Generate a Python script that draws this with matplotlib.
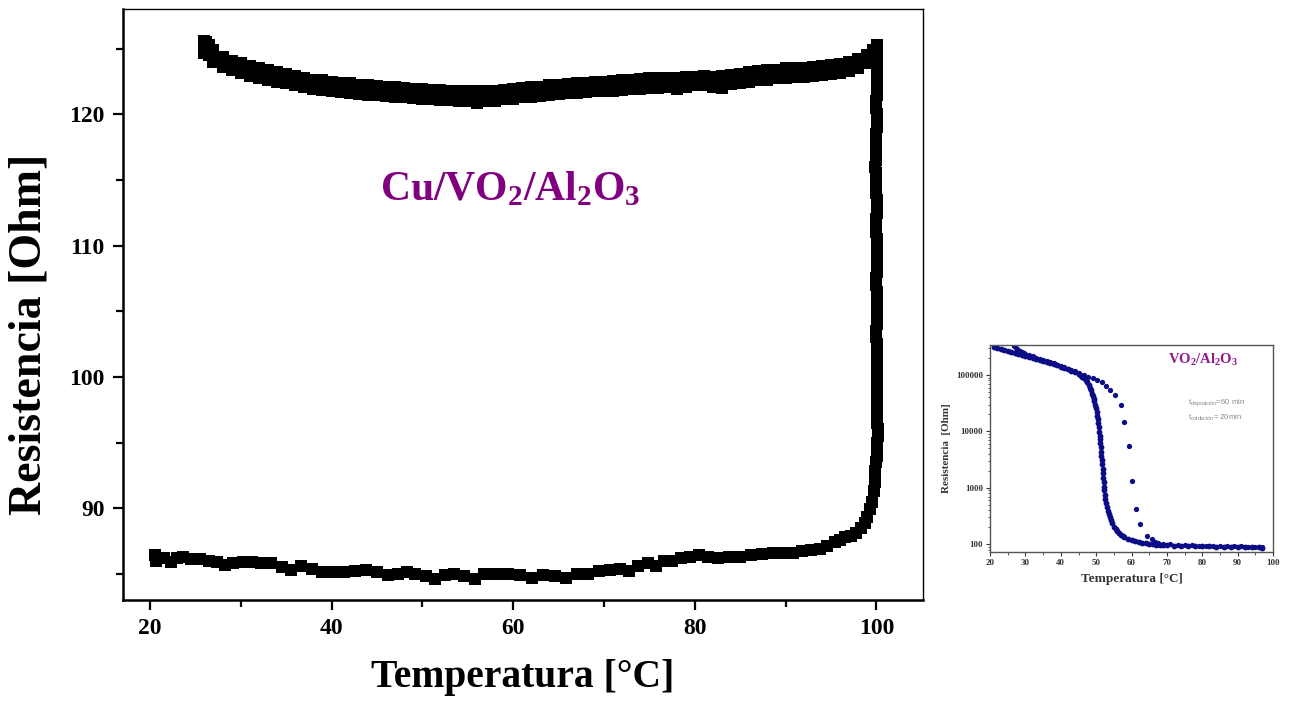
import matplotlib
matplotlib.use("Agg")
import matplotlib.pyplot as plt
from matplotlib.ticker import MultipleLocator, LogLocator, NullFormatter, FixedFormatter, FixedLocator

plt.rcParams["font.family"] = ["Liberation Serif", "DejaVu Serif"]
plt.rcParams["font.weight"] = "bold"
plt.rcParams["mathtext.fontset"] = "custom"
plt.rcParams["mathtext.rm"] = "Liberation Serif:bold"
plt.rcParams["mathtext.bf"] = "Liberation Serif:bold"

# --- main sample: Cu/VO2/Al2O3, heating branch (lower) ---
t_heat = [20.6, 20.7, 21.5, 22.3, 23.0, 23.6, 24.5, 25.5, 26.5, 27.4, 28.3, 29.2,
          30.2, 31.2, 32.2, 33.3, 34.5, 35.5, 36.6, 37.8, 39.0, 40.2, 41.4, 42.6,
          43.8, 45.0, 46.2, 47.3, 48.3, 49.2, 50.4, 51.4, 52.5, 53.5, 54.6, 55.8,
          56.8, 58.1, 59.4, 60.8, 62.1, 63.3, 64.6, 65.8, 67.0, 68.3, 69.5, 70.7,
          71.8, 72.8, 73.8, 74.8, 75.7, 76.6, 77.5, 78.5, 79.5, 80.5, 81.5, 82.6,
          83.8, 85.0, 86.2, 87.4, 88.6, 89.8, 90.8, 91.8, 92.8, 93.8, 94.6, 95.4,
          96.0, 96.6, 97.2, 97.8, 98.3, 98.7, 99.0, 99.3, 99.5, 99.7, 99.8, 99.9]
r_heat = [86.4, 86.0, 86.2, 85.9, 86.2, 86.3, 86.1, 86.1, 86.0, 85.9, 85.7, 85.8,
          85.9, 85.9, 85.8, 85.8, 85.5, 85.3, 85.6, 85.4, 85.1, 85.1, 85.1, 85.2,
          85.3, 85.1, 84.9, 85.0, 85.1, 85.0, 84.8, 84.6, 84.9, 85.0, 84.8, 84.6,
          85.0, 85.0, 85.0, 84.9, 84.7, 84.9, 84.8, 84.7, 85.0, 85.0, 85.2, 85.3,
          85.4, 85.2, 85.6, 85.8, 85.6, 86.0, 86.0, 86.2, 86.3, 86.4, 86.3, 86.2,
          86.3, 86.3, 86.4, 86.5, 86.6, 86.6, 86.6, 86.7, 86.8, 86.9, 87.1, 87.4,
          87.6, 87.8, 87.9, 88.1, 88.5, 88.9, 89.3, 89.9, 90.5, 91.3, 92.0, 92.8]

# --- jump at ~100 C ---
t_jump = [100.0, 100.05, 100.1, 100.1, 100.15, 100.15, 100.1, 100.1, 100.05, 100.1,
          100.1, 100.1, 100.05, 100.05, 100.1, 100.1, 100.1, 100.05, 100.05, 100.0,
          100.0, 100.05, 100.05, 100.1, 100.1, 100.05, 100.05, 100.0, 100.0, 100.05,
          100.05, 100.1, 100.1, 100.05, 100.05, 100.0, 100.0, 100.0, 100.05, 100.05,
          100.05, 100.0, 100.0, 99.95, 99.95, 99.9, 99.95, 99.95, 100.0, 100.0,
          100.0, 100.05, 100.05, 100.05, 100.0, 100.0, 100.05, 100.05, 100.05, 100.05,
          100.1, 100.05, 100.05, 100.1, 100.1]
r_jump = [93.5, 94.0, 94.5, 95.0, 95.5, 96.0, 96.5, 97.0, 97.5, 98.0,
          98.5, 99.0, 99.5, 100.0, 100.5, 101.0, 101.5, 102.0, 102.5, 103.0,
          103.5, 104.0, 104.5, 105.0, 105.5, 106.0, 106.5, 107.0, 107.5, 108.0,
          108.5, 109.0, 109.5, 110.0, 110.5, 111.0, 111.5, 112.0, 112.5, 113.0,
          113.5, 114.0, 114.5, 115.0, 115.5, 116.0, 116.5, 117.0, 117.5, 118.0,
          118.5, 119.0, 119.5, 120.0, 120.5, 121.0, 121.5, 122.0, 122.5, 123.0,
          123.5, 124.0, 124.5, 125.0, 125.3]

# --- cooling branch (upper), two scattered rows of points ---
t_cool = [99.6, 99, 98, 97, 96, 95, 94, 93, 92, 91, 90, 89, 88, 87, 86, 85, 84, 83,
          82, 81, 80, 79, 78, 77, 76, 75, 74, 73, 72, 71, 70, 69, 68, 67, 66, 65,
          64, 63, 62, 61, 60, 59, 58, 57, 56, 55, 54, 53, 52, 51, 50, 49, 48, 47,
          46, 45, 44, 43, 42, 41, 40, 39, 38, 37, 36, 35, 34, 33, 32, 31, 30, 29,
          28, 27, 26.5, 26.2, 26.0, 26.0]
r_cool_a = [124.9, 124.5, 124.2, 124.0, 123.8, 123.75, 123.7, 123.6, 123.55, 123.5,
            123.5, 123.4, 123.35, 123.3, 123.2, 123.1, 123.0, 122.9, 122.85, 122.9,
            122.85, 122.85, 122.8, 122.8, 122.75, 122.75, 122.7, 122.6, 122.6, 122.55,
            122.5, 122.45, 122.4, 122.35, 122.3, 122.25, 122.2, 122.1, 122.05, 122.0,
            121.9, 121.85, 121.8, 121.75, 121.75, 121.8, 121.8, 121.8, 121.85, 121.85,
            121.9, 121.95, 122.0, 122.05, 122.1, 122.15, 122.2, 122.25, 122.35, 122.4,
            122.5, 122.6, 122.65, 122.75, 122.9, 123.05, 123.2, 123.35, 123.5, 123.7,
            123.9, 124.1, 124.4, 124.9, 125.3, 125.5, 125.6, 125.2]
r_cool_b = [124.3, 123.9, 123.5, 123.3, 123.15, 123.05, 123.0, 122.95, 122.85, 122.85,
            122.8, 122.75, 122.65, 122.6, 122.5, 122.4, 122.3, 122.0, 122.1, 122.2,
            122.2, 122.1, 121.95, 122.05, 122.0, 122.0, 121.95, 121.9, 121.85, 121.8,
            121.8, 121.75, 121.7, 121.65, 121.6, 121.55, 121.45, 121.4, 121.35, 121.3,
            121.2, 121.15, 121.0, 121.05, 120.9, 121.0, 121.05, 121.1, 121.1, 121.15,
            121.2, 121.25, 121.3, 121.35, 121.4, 121.45, 121.5, 121.55, 121.6, 121.7,
            121.75, 121.85, 121.95, 122.05, 122.2, 122.35, 122.5, 122.65, 122.8, 122.95,
            123.15, 123.35, 123.6, 124.0, 124.5, 124.8, 125.0, 124.7]

# --- small inset: VO2/Al2O3 (log scale) ---
ti_heat = [21, 22, 23, 24, 25, 26, 27, 28, 29, 30, 31, 32, 33, 34, 35, 36, 37, 38,
           39, 40, 41, 42, 43, 44, 45, 45.5, 46, 46.5, 47, 47.5, 48.0, 48.3, 48.6,
           48.9, 49.1, 49.3, 49.5, 49.7, 49.9, 50.1, 50.3, 50.45, 50.6, 50.75, 50.9,
           51.0, 51.1, 51.2, 51.3, 51.4, 51.5, 51.6, 51.7, 51.8, 51.9, 52.0, 52.1,
           52.2, 52.3, 52.45, 52.6, 52.8, 53.0, 53.25, 53.5, 53.8, 54.1, 54.5, 55.0,
           55.5, 56.0, 56.5, 57, 57.5, 58, 59, 60, 61, 62, 63, 64, 65, 66, 67, 68,
           69, 70, 72, 74, 76, 78, 80, 82, 84, 86, 88, 90, 92, 94, 96, 97]
ri_heat = [310000, 300000, 290000, 280000, 270000, 260000, 250000, 240000, 230000,
           220000, 210000, 200000, 190000, 185000, 175000, 170000, 160000, 155000,
           148000, 140000, 133000, 127000, 120000, 112000, 103000, 99000, 94000,
           89000, 83000, 75000, 66000, 60000, 54000, 47000, 42000, 38000, 34000,
           30000, 26500, 22500, 19000, 16500, 14000, 11800, 9800, 8300, 7200, 6200,
           5200, 4400, 3700, 3100, 2600, 2150, 1800, 1500, 1250, 1050, 900, 760,
           640, 540, 460, 390, 340, 300, 265, 235, 205, 185, 170, 158, 148, 140,
           134, 125, 119, 114, 110, 107, 104, 102, 100, 99, 98, 97, 96, 95, 94,
           93.5, 93, 92, 91.5, 91, 90.5, 90, 89.5, 89, 88.5, 88, 87.5]
ti_cool = [97, 95, 93, 91, 89, 87, 85, 83, 81, 79, 77, 75, 73, 71, 69, 67.5, 66.5,
           65.7, 64.3, 62.4, 61.3, 60.2, 59.3, 58.0, 57.0, 55.4, 54.0, 52.9, 51.7,
           50.3, 49.0, 47.8, 46.5, 45, 44, 43, 42, 41, 40, 39, 38, 37, 36, 35, 34,
           33, 32, 31, 30, 29.5, 29, 28.5, 28, 27.5, 27.2, 26.8]
ri_cool = [90, 90.5, 91, 91.5, 92, 92.5, 93, 93.5, 94, 95, 96, 97, 98, 100, 102,
           106, 112, 125, 141, 230, 420, 1350, 5500, 15000, 30000, 44000, 54000,
           65000, 75000, 82000, 88000, 94000, 101000, 108000, 116000, 123000, 130000,
           137000, 145000, 152000, 160000, 168000, 177000, 186000, 195000, 204000,
           214000, 224000, 236000, 243000, 252000, 262000, 272000, 285000, 300000,
           330000]

fig = plt.figure(figsize=(12.91, 7.07), dpi=100)

# --- main panel ---
ax = fig.add_axes([0.095, 0.1513, 0.6197, 0.8355])
ax.plot(t_heat, r_heat, "s", color="black", ms=8, mew=0)
ax.plot(t_jump, r_jump, "s", color="black", ms=8, mew=0)
ax.plot(t_cool, r_cool_a, "s", color="black", ms=8, mew=0)
ax.plot(t_cool, r_cool_b, "s", color="black", ms=8, mew=0)

ax.set_xlim(17.0, 105.1)
ax.set_ylim(83.0, 128.0)
ax.xaxis.set_major_locator(MultipleLocator(20))
ax.xaxis.set_minor_locator(MultipleLocator(10))
ax.yaxis.set_major_locator(MultipleLocator(10))
ax.yaxis.set_minor_locator(MultipleLocator(5))
ax.tick_params(which="major", direction="out", length=7, width=1.6, labelsize=17, pad=6)
ax.tick_params(which="minor", direction="out", length=5, width=1.6)
ax.spines["left"].set_linewidth(1.8)
ax.spines["bottom"].set_linewidth(1.8)
ax.spines["top"].set_linewidth(1.0)
ax.spines["right"].set_linewidth(1.0)

ax.set_xlabel("Temperatura [°C]", fontsize=28.5, fontweight="bold", labelpad=14)
ax.set_ylabel("Resistencia [Ohm]", fontsize=33, fontweight="bold")
ax.yaxis.set_label_coords(-0.090, 0.449)

ax.text(0.322, 0.695, r"$\mathbf{Cu/VO_2/Al_2O_3}$", transform=ax.transAxes,
        color="#800080", fontsize=30, ha="left", va="center")

# --- inset panel ---
navy = "#0c0c86"
gray = "#555555"
ins = fig.add_axes([0.7669, 0.2192, 0.2192, 0.2928])
ins.plot(ti_heat, ri_heat, "o", color=navy, ms=4.2, mew=0)
ins.plot(ti_cool, ri_cool, "o", color=navy, ms=3.8, mew=0)
ins.set_yscale("log")
ins.set_xlim(20, 100)
ins.set_ylim(73, 340000)
ins.xaxis.set_major_locator(MultipleLocator(10))
ins.xaxis.set_minor_locator(MultipleLocator(5))
ins.yaxis.set_major_locator(FixedLocator([100, 1000, 10000, 100000]))
ins.yaxis.set_major_formatter(FixedFormatter(["100", "1000", "10000", "100000"]))
ins.yaxis.set_minor_locator(LogLocator(base=10, subs=range(2, 10)))
ins.yaxis.set_minor_formatter(NullFormatter())
ins.tick_params(which="major", direction="out", length=3, width=0.8, labelsize=6.5,
                pad=2, colors="#333333")
ins.tick_params(which="minor", direction="out", length=1.8, width=0.6, colors="#333333")
for s in ins.spines.values():
    s.set_color(gray)
    s.set_linewidth(1.0)
ins.set_xlabel("Temperatura [°C]", fontsize=9.5, fontweight="bold", labelpad=4, color="#333333")
ins.set_ylabel("Resistencia  [Ohm]", fontsize=8, fontweight="bold", labelpad=4, color="#333333")

ins.text(0.63, 0.93, r"$\mathbf{VO_2/Al_2O_3}$", transform=ins.transAxes,
         color="#8b1a8b", fontsize=10.5, ha="left", va="center")
ins.text(0.70, 0.72, "t$_{\\mathregular{deposición}}$=60 min", transform=ins.transAxes,
         color="#888888", fontsize=5.5, ha="left", va="center",
         family=["Liberation Sans", "DejaVu Sans"], fontweight="normal")
ins.text(0.70, 0.65, "t$_{\\mathregular{oxidación}}$= 20min", transform=ins.transAxes,
         color="#888888", fontsize=5.5, ha="left", va="center",
         family=["Liberation Sans", "DejaVu Sans"], fontweight="normal")

fig.savefig("out.png", dpi=100)
